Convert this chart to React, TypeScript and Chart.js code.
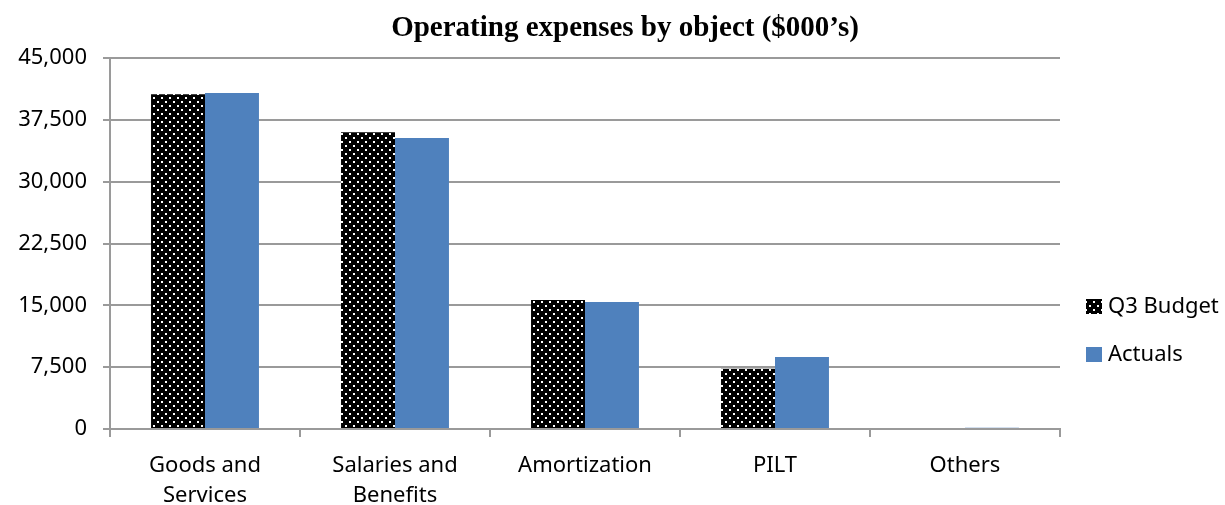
import React, { useEffect, useRef } from "react";
import { Chart, registerables } from "chart.js";

Chart.register(...registerables);

const categories: string[][] = [
  ["Goods and", "Services"],
  ["Salaries and", "Benefits"],
  ["Amortization"],
  ["PILT"],
  ["Others"],
];
const budgetValues = [40600, 36000, 15650, 7300, 0];
const actualValues = [40750, 35300, 15400, 8730, 150];
const yTicks = [0, 7500, 15000, 22500, 30000, 37500, 45000];
const seriesNames = ["Q3 Budget", "Actuals"];
const titleText = "Operating expenses by object ($000\u2019s)";

const W = 1225;
const H = 505;
const FONT = "'Noto Sans', 'Liberation Sans', sans-serif";

function makeDotPattern(): CanvasPattern | string {
  const c = document.createElement("canvas");
  c.width = 8;
  c.height = 8;
  const g = c.getContext("2d");
  if (!g) return "#000";
  g.fillStyle = "#000";
  g.fillRect(0, 0, 8, 8);
  g.fillStyle = "#fff";
  g.fillRect(1, 1, 2, 2);
  g.fillRect(5, 5, 2, 2);
  const p = g.createPattern(c, "repeat");
  return p || "#000";
}

export default function App() {
  const ref = useRef<HTMLCanvasElement>(null);
  useEffect(() => {
    document.body.style.margin = "0";
    const canvas = ref.current;
    if (!canvas) return;
    const pattern = makeDotPattern();
    const blue = "#4F81BD";

    const overlay = {
      id: "overlay",
      afterDraw(chart: any) {
        const ctx = chart.ctx;
        ctx.save();
        ctx.fillStyle = "#000";
        ctx.font = `bold 29px 'Liberation Serif', 'Times New Roman', serif`;
        ctx.textAlign = "center";
        ctx.textBaseline = "middle";
        ctx.fillText(titleText, 625, 29);
        // legend
        const items = [
          { label: seriesNames[0], fill: pattern, y: 306 },
          { label: seriesNames[1], fill: blue, y: 354 },
        ];
        ctx.font = `22px ${FONT}`;
        ctx.textAlign = "left";
        for (const it of items) {
          ctx.fillStyle = it.fill as any;
          ctx.fillRect(1086, it.y - 7, 16, 15);
          ctx.fillStyle = "#000";
          ctx.fillText(it.label, 1108, it.y + 1);
        }
        ctx.restore();
      },
    };

    const chart = new Chart(canvas, {
      type: "bar",
      data: {
        labels: categories,
        datasets: [
          {
            label: seriesNames[0],
            data: budgetValues,
            backgroundColor: pattern as any,
            borderWidth: 0,
            categoryPercentage: 0.568,
            barPercentage: 1,
          },
          {
            label: seriesNames[1],
            data: actualValues,
            backgroundColor: blue,
            borderWidth: 0,
            categoryPercentage: 0.568,
            barPercentage: 1,
          },
        ],
      },
      options: {
        animation: false,
        responsive: false,
        maintainAspectRatio: false,
        layout: { padding: { left: 0, right: 165, top: 58, bottom: 0 } },
        plugins: {
          legend: { display: false },
          title: { display: false },
          tooltip: { enabled: false },
        },
        scales: {
          x: {
            offset: true,
            grid: {
              offset: true,
              drawOnChartArea: false,
              drawTicks: true,
              tickLength: 8,
              color: "#9a9a9a",
              lineWidth: 2,
            },
            border: { display: true, color: "#9a9a9a", width: 2 },
            ticks: {
              color: "#000",
              font: { family: FONT, size: 22, lineHeight: 1.4 },
              padding: 13,
              maxRotation: 0,
              autoSkip: false,
            },
            afterFit(scale: any) {
              scale.height = H - 429;
            },
          },
          y: {
            min: 0,
            max: 45000,
            afterBuildTicks(scale: any) {
              scale.ticks = yTicks.map((v) => ({ value: v }));
            },
            grid: {
              color: "#9a9a9a",
              lineWidth: 2,
              drawTicks: true,
              tickLength: 7,
            },
            border: { display: true, color: "#9a9a9a", width: 2 },
            ticks: {
              color: "#000",
              font: { family: FONT, size: 22 },
              padding: 16,
              callback: (v: any) => Number(v).toLocaleString("en-US"),
            },
            afterFit(scale: any) {
              scale.width = 110;
            },
          },
        },
      },
      plugins: [overlay],
    });
    return () => chart.destroy();
  }, []);
  return (
    <div style={{ position: "absolute", left: 0, top: 0, width: W, height: H, background: "#fff" }}>
      <canvas ref={ref} width={W} height={H} style={{ width: W, height: H, display: "block" }} />
    </div>
  );
}
